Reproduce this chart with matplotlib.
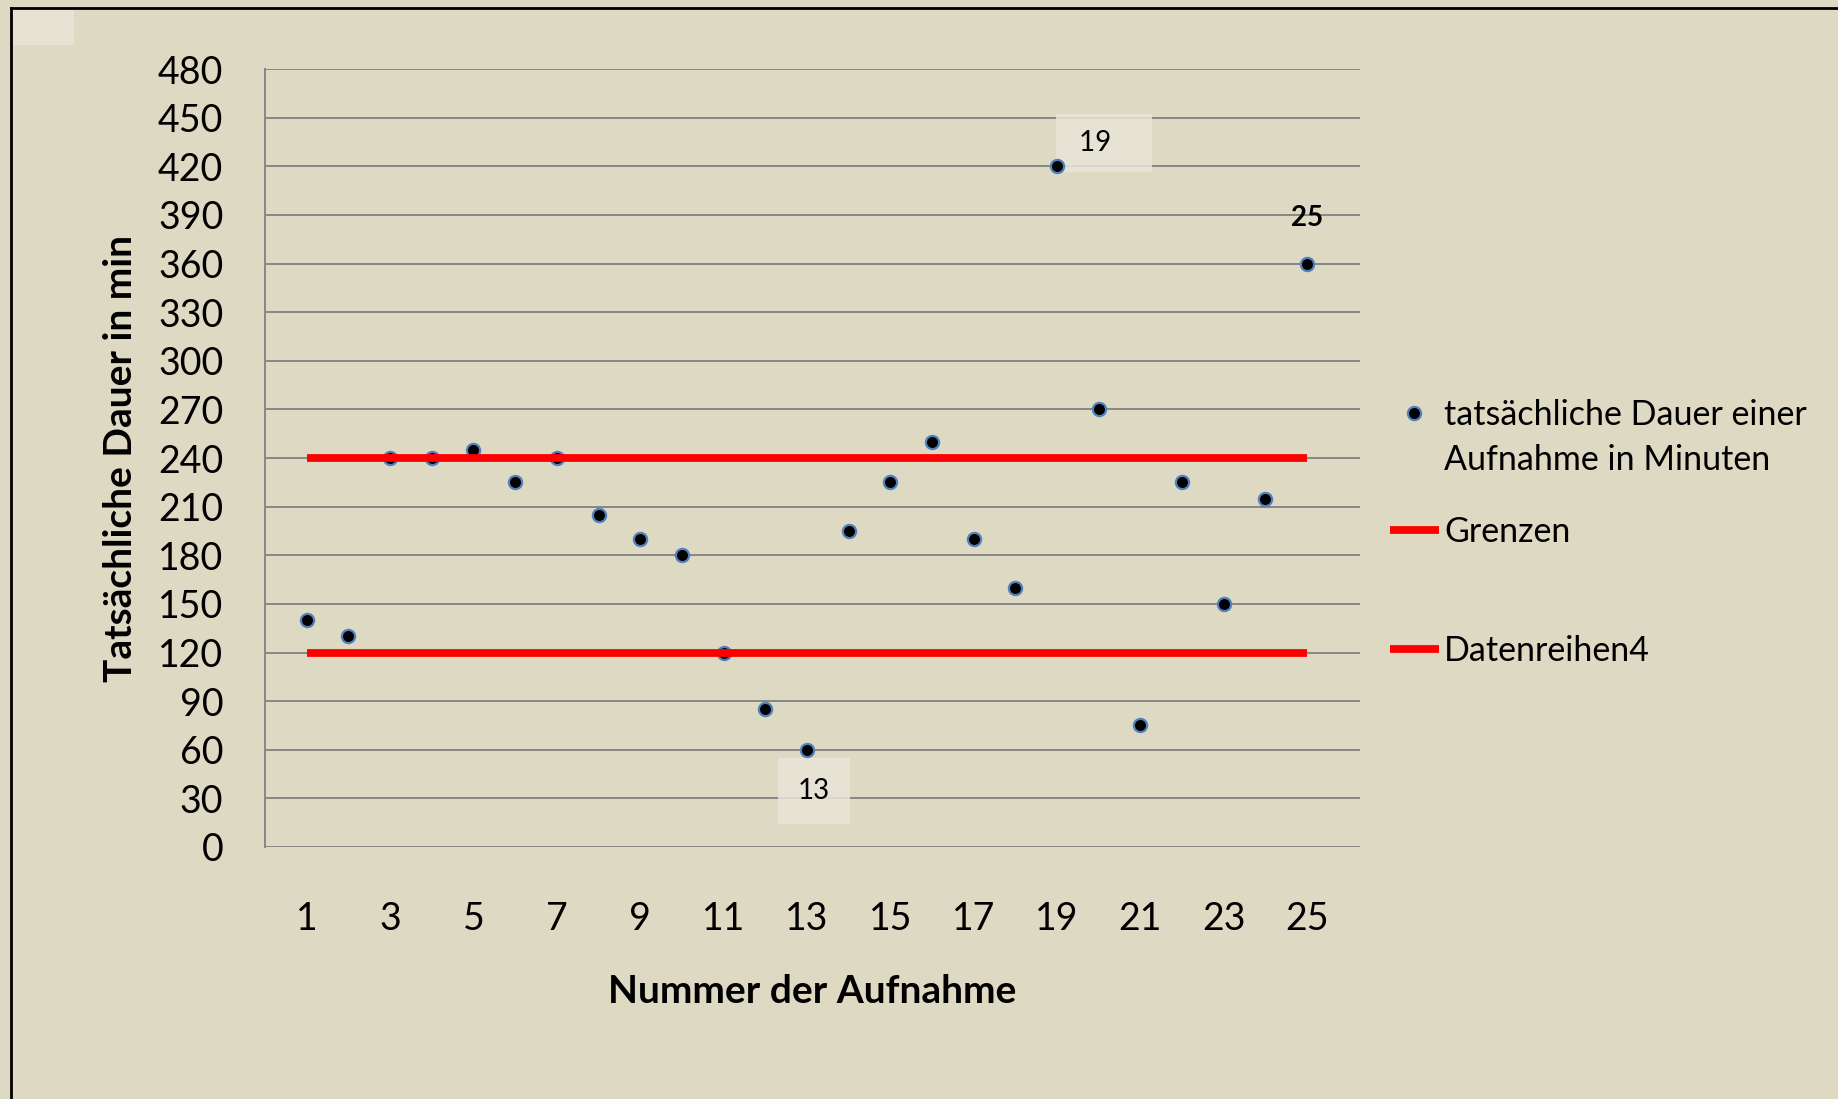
import matplotlib.pyplot as plt
from matplotlib.lines import Line2D
from matplotlib.patches import Rectangle

# Daten
nummer = list(range(1, 26))
dauer = [140, 130, 240, 240, 245, 225, 240, 205, 190, 180, 120, 85, 60,
         195, 225, 250, 190, 160, 420, 270, 75, 225, 150, 215, 360]
grenze_oben = [240] * len(nummer)
grenze_unten = [120] * len(nummer)
y_ticks = list(range(0, 481, 30))
x_ticks = list(range(1, 26, 2))

bg = '#DDD9C3'
grid_col = '#868686'
plt.rcParams['font.family'] = ['Lato', 'DejaVu Sans']

W, H = 1838, 1099
fig = plt.figure(figsize=(W / 100, H / 100), dpi=100, facecolor=bg)
ax = fig.add_axes([0.1442, 0.2293, 0.5958, 0.7079])
ax.set_facecolor(bg)

# Punkte
ax.plot(nummer, dauer, linestyle='none', marker='o', markersize=9.5,
        markerfacecolor='black', markeredgecolor='#4F81BD', markeredgewidth=1.6,
        zorder=3, label='tatsächliche Dauer einer')
# Grenzen
ax.plot(nummer, grenze_oben, color='#FF0000', lw=5.6, solid_capstyle='butt',
        zorder=4, label='Grenzen')
ax.plot(nummer, grenze_unten, color='#FF0000', lw=5.6, solid_capstyle='butt',
        zorder=4, label='Datenreihen4')

ax.set_ylim(0, 480)
ax.set_xlim(0, 26.27)
ax.set_yticks(y_ticks)
ax.set_xticks(x_ticks)
ax.grid(axis='y', color=grid_col, lw=1.4, zorder=1)
ax.tick_params(axis='both', length=0, labelsize=27)
ax.tick_params(axis='y', pad=30)
ax.tick_params(axis='x', pad=39)
for s in ['top', 'right', 'bottom']:
    ax.spines[s].set_visible(False)
ax.spines['left'].set_color(grid_col)
ax.spines['left'].set_linewidth(1.4)

ax.set_ylabel('Tatsächliche Dauer in min', fontsize=28, fontweight='bold', va='center')
ax.yaxis.set_label_coords(-0.132, 0.5)
ax.set_xlabel('Nummer der Aufnahme', fontsize=28, fontweight='bold', va='center')
ax.xaxis.set_label_coords(0.4995, -0.186)

# Datenbeschriftungen
box_col = '#E8E5D9'
ax.annotate('\u2009\u200919\u2003\u2009', xy=(19, dauer[18]), xytext=(34, 16.5),
            textcoords='offset points', ha='center', va='center', fontsize=20,
            bbox=dict(boxstyle='square,pad=0.58', facecolor=box_col,
                      edgecolor='none', alpha=0.85), zorder=2)
ax.annotate('13', xy=(13, dauer[12]), xytext=(5, -29.5), textcoords='offset points',
            ha='center', va='center', fontsize=20,
            bbox=dict(boxstyle='square,pad=0.72', facecolor=box_col,
                      edgecolor='none', alpha=0.85), zorder=2)
ax.annotate('25', xy=(25, dauer[24]), xytext=(0, 33), textcoords='offset points',
            ha='center', va='center', fontsize=20, fontweight='bold')

# Legende
handles, labels = ax.get_legend_handles_labels()
ys = [1 - 415 / H, 1 - 532 / H, 1 - 651 / H]
legs = []
for h, l, y in zip(handles, labels, ys):
    leg = fig.legend([h], [l], loc='center left', bbox_to_anchor=(0.756, y),
                     frameon=False, fontsize=24.5, handlelength=1.44,
                     handletextpad=0.17, borderpad=0, borderaxespad=0)
    legs.append(leg)

# zweite Zeile des ersten Legendeneintrags
fig.canvas.draw()
bb = legs[0].get_texts()[0].get_window_extent()
fig.text(bb.x0 / W, bb.y0 / H - 45 / H, 'Aufnahme in Minuten', fontsize=24.5,
         ha='left', va='bottom')

# Rahmen
fig.add_artist(Line2D([11 / W, 11 / W], [0, 1 - 8 / H], color='black', lw=2))
fig.add_artist(Line2D([11 / W, 1], [1 - 8 / H, 1 - 8 / H], color='black', lw=2))
fig.add_artist(Rectangle((12 / W, 1 - 45 / H), 62 / W, 36 / H,
                         transform=fig.transFigure, facecolor=box_col,
                         edgecolor='none', alpha=0.85))

fig.savefig('out.png', dpi=100, facecolor=bg)
